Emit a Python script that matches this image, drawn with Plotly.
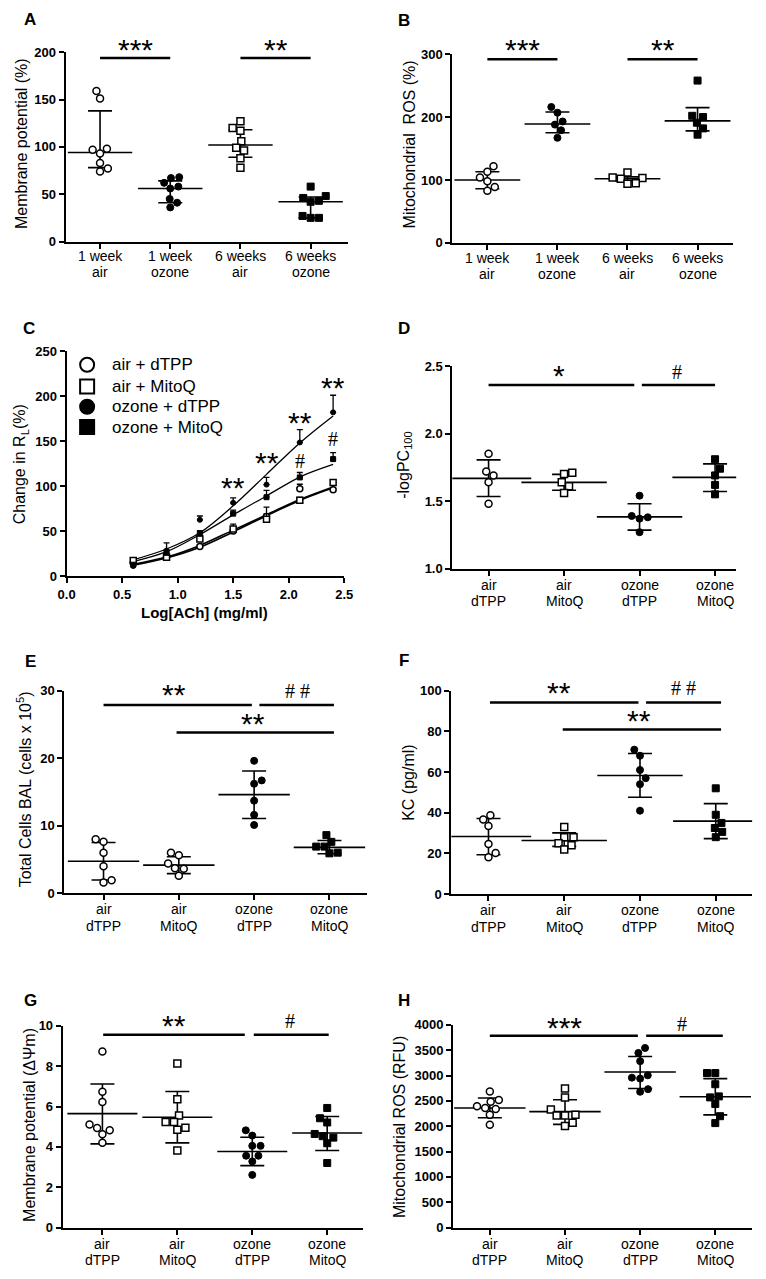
import plotly.graph_objects as go

W, H = 766, 1279

# ---------------- data ----------------
cats_week_1 = ["1 week", "1 week", "6 weeks", "6 weeks"]
cats_week_2 = ["air", "ozone", "air", "ozone"]
cats_trt_1 = ["air", "air", "ozone", "ozone"]
cats_trt_2 = ["dTPP", "MitoQ", "dTPP", "MitoQ"]

# A: Membrane potential (%)
A_1w_air = [151, 159, 97, 93, 98, 83, 74, 77]
A_1w_ozone = [67, 68, 62, 58, 56, 45, 41, 36]
A_6w_air = [127, 117, 120, 106, 99, 96, 88, 78]
A_6w_ozone = [58, 48, 43, 42, 46, 27, 25, 25]
A_mid = [94, 56, 102, 42]
A_lo = [78, 41, 89, 25]
A_hi = [138, 64, 118, 47]

# B: Mitochondrial ROS (%)
B_1w_air = [113, 122, 98, 104, 83, 89]
B_1w_ozone = [216, 207, 193, 188, 179, 167]
B_6w_air = [112, 104, 102, 103, 95, 94]
B_6w_ozone = [258, 200, 202, 191, 182, 172]
B_mid = [100, 189, 102, 194]
B_lo = [86, 175, 98, 178]
B_hi = [113, 208, 105, 215]

# C: Change in RL (%) vs Log[ACh]
C_x = [0.6, 0.9, 1.2, 1.5, 1.8, 2.1, 2.4]
C_air_dTPP = [14.7, 21.7, 32.7, 50, 66, 97, 96]
C_air_dTPP_sem = [1, 1.5, 2, 2, 3, 5, 2]
C_air_MitoQ = [17.3, 20.9, 41.1, 52.1, 63.1, 84.3, 104]
C_air_MitoQ_sem = [1, 2, 3, 5.5, 13.5, 3, 2]
C_oz_dTPP = [11, 28.3, 62.4, 81.4, 101.6, 148.5, 182]
C_oz_dTPP_sem = [2, 8.4, 4.3, 5.5, 8, 14.3, 19]
C_oz_MitoQ = [12.5, 25.7, 47.3, 69.3, 87.6, 109.6, 130]
C_oz_MitoQ_sem = [1.5, 3, 3, 4, 7.7, 5.5, 7.3]
C_fit_air_dTPP = [12, 20, 32, 49, 67, 84, 98]
C_fit_air_MitoQ = [13, 21, 34, 51, 68, 85, 99]
C_fit_oz_dTPP = [18, 30, 48, 78, 113, 148, 178]
C_fit_oz_MitoQ = [16, 27, 46, 68, 89, 110, 124]
C_star_x = [1.5, 1.8, 2.1, 2.4]
C_star_y = [101.5, 129, 174, 213]
C_hash_x = [2.1, 2.4]
C_hash_y = [127, 151]
C_legend = ["air + dTPP", "air + MitoQ", "ozone + dTPP", "ozone + MitoQ"]

# D: -logPC100
D_air_dTPP = [1.85, 1.69, 1.72, 1.64, 1.48]
D_air_MitoQ = [1.71, 1.70, 1.64, 1.61, 1.56]
D_oz_dTPP = [1.54, 1.38, 1.37, 1.39, 1.27]
D_oz_MitoQ = [1.81, 1.74, 1.69, 1.62, 1.55]
D_mid = [1.668, 1.639, 1.383, 1.676]
D_lo = [1.534, 1.58, 1.285, 1.571]
D_hi = [1.805, 1.698, 1.48, 1.776]

# E: Total cells BAL
E_air_dTPP = [7.6, 8.0, 6.0, 4.0, 1.6, 1.9]
E_air_MitoQ = [6.0, 5.6, 4.4, 3.6, 3.7, 2.6]
E_oz_dTPP = [19.6, 16.7, 16.2, 13.7, 11.6, 10.1]
E_oz_MitoQ = [8.6, 7.6, 6.9, 6.9, 6.0, 5.9]
E_mid = [4.73, 4.15, 14.6, 6.78]
E_lo = [1.95, 2.9, 11.05, 5.85]
E_hi = [7.5, 5.4, 18.1, 7.8]

# F: KC (pg/ml)
F_air_dTPP = [38.8, 36.7, 33.5, 24.6, 20.2, 18.1]
F_air_MitoQ = [33, 28, 28, 25, 24, 22]
F_oz_dTPP = [71, 68, 61, 57, 54, 41]
F_oz_MitoQ = [52, 39, 35, 32.5, 30.6, 28]
F_mid = [28.3, 26.4, 58.3, 35.9]
F_lo = [19.4, 23.5, 47.6, 27.3]
F_hi = [37.2, 30.1, 69.1, 44.5]

# G: Membrane potential (dPsi m)
G_air_dTPP = [8.73, 6.73, 6.22, 4.94, 4.82, 5.11, 4.62, 4.2]
G_air_MitoQ = [8.14, 6.36, 5.56, 5.23, 5.23, 4.95, 4.85, 3.82]
G_oz_dTPP = [4.82, 4.56, 4.05, 4.05, 3.56, 3.56, 3.28, 2.61]
G_oz_MitoQ = [5.93, 5.42, 5.21, 4.64, 4.53, 4.46, 4.18, 3.2]
G_mid = [5.65, 5.47, 3.77, 4.69]
G_lo = [4.15, 4.2, 3.07, 3.82]
G_hi = [7.12, 6.75, 4.48, 5.51]

# H: Mitochondrial ROS (RFU)
H_air_dTPP = [2686, 2485, 2517, 2341, 2361, 2393, 2224, 2029]
H_air_MitoQ = [2745, 2569, 2329, 2224, 2211, 2211, 2068, 2003]
H_oz_dTPP = [3545, 3447, 3285, 2959, 2940, 3005, 2732, 2680]
H_oz_MitoQ = [3050, 3050, 2829, 2569, 2589, 2439, 2198, 2062]
H_mid = [2361, 2289, 3070, 2582]
H_lo = [2166, 2036, 2745, 2224]
H_hi = [2556, 2523, 3376, 2940]

# significance bars: (x0, x1, y) and labels (text, x, y)
A_bars = [(0, 1, 193.7), (2, 3, 193.7)]
A_marks = [("***", 0.5, 206), ("**", 2.5, 206)]
B_bars = [(0, 1, 292), (2, 3, 292)]
B_marks = [("***", 0.5, 312), ("**", 2.5, 312)]
D_bars = [(0, 1.93, 2.359), (2.03, 3.0, 2.359)]
D_marks = [("*", 0.93, 2.45), ("#", 2.5, 2.45)]
E_bars = [(0, 1.97, 27.85), (2.07, 3.06, 27.85), (0.97, 3.06, 23.8)]
E_marks = [("**", 0.93, 29.8), ("# #", 2.58, 29.8), ("**", 1.99, 25.6)]
F_bars = [(0.02, 1.98, 94.2), (2.08, 3.07, 94.2), (0.98, 3.07, 80.9)]
F_marks = [("**", 0.93, 100.6), ("# #", 2.57, 100.6), ("**", 1.99, 86.9)]
G_bars = [(0.01, 1.9, 9.56), (2.02, 3.02, 9.56)]
G_marks = [("**", 0.96, 10.18), ("#", 2.51, 10.18)]
H_bars = [(0, 1.97, 3785), (2.08, 3.1, 3785)]
H_marks = [("***", 1.0, 4000), ("#", 2.56, 4000)]

# ---------------- layout (pixel boxes) ----------------
# name: (left, right, top, bottom, xrange, yrange)
boxes = {
    "A": (58, 347, 45.7, 237.3, [-0.49, 3.53], [0, 200]),
    "B": (454, 741, 47.7, 238.7, [-0.5, 3.5], [0, 300]),
    "C": (59, 343.3, 348.3, 575.7, [0, 2.5], [0, 250]),
    "D": (454, 744.7, 363.3, 568.3, [-0.48, 3.28], [1.0, 2.5]),
    "E": (56.7, 366.7, 691.7, 896.7, [-0.52, 3.5], [0, 30]),
    "F": (453, 761, 691.7, 897.7, [-0.49, 3.48], [0, 100]),
    "G": (55, 362.7, 1031, 1235, [-0.53, 3.48], [0, 10]),
    "H": (454.7, 761, 1030, 1235, [-0.49, 3.49], [0, 4000]),
}
order = ["A", "B", "C", "D", "E", "F", "G", "H"]
axid = {k: i + 1 for i, k in enumerate(order)}

FONT = "Liberation Sans, Arial, sans-serif"
SERIF = "Liberation Serif, Times New Roman, serif"
fig = go.Figure()


def refs(p):
    i = axid[p]
    return ("x" if i == 1 else f"x{i}"), ("y" if i == 1 else f"y{i}")


def ypaper(p, v):
    l, r, t, b, xrng, yrng = boxes[p]
    py = b - (v - yrng[0]) * (b - t) / (yrng[1] - yrng[0])
    return 1 - py / H


def swarm(vals, ppu, ppc, d=8.5):
    n = len(vals)
    idx = sorted(range(n), key=lambda i: vals[i])
    placed = []
    xs = [0.0] * n
    side = 1
    for i in idx:
        y = vals[i] * ppu
        forb = []
        for px, py in placed:
            dy = abs(y - py)
            if dy < d:
                w = (d * d - dy * dy) ** 0.5
                forb.append((px - w, px + w))
        cands = [0.0] + [a for a, b in forb] + [b for a, b in forb]
        valid = [c for c in cands if all(not (a + 1e-6 < c < b - 1e-6) for a, b in forb)]
        best = min(valid, key=lambda c: (round(abs(c), 4), -c * side))
        if abs(best) > 1e-6:
            side = -side
        placed.append((best, y))
        xs[i] = best / ppc
    return xs


STY = {
    "oc": dict(symbol="circle", color="white", line=dict(color="black", width=1.5)),
    "fc": dict(symbol="circle", color="black", line=dict(color="black", width=1)),
    "os": dict(symbol="square", color="white", line=dict(color="black", width=1.5)),
    "fs": dict(symbol="square", color="black", line=dict(color="black", width=1)),
}


def scatter_panel(p, groups, styles, mid, lo, hi, mean_w):
    xr, yr = refs(p)
    l, r, t, b, xrng, yrng = boxes[p]
    ppc = (r - l) / (xrng[1] - xrng[0])
    ppu = (b - t) / (yrng[1] - yrng[0])
    fig.add_trace(go.Scatter(
        x=list(range(4)), y=mid, mode="markers", xaxis=xr, yaxis=yr, showlegend=False,
        marker=dict(symbol="line-ew", size=mean_w, color="black", line=dict(color="black", width=1.6)),
        error_y=dict(type="data", symmetric=False,
                     array=[h - m for h, m in zip(hi, mid)],
                     arrayminus=[m - q for m, q in zip(mid, lo)],
                     width=12, thickness=1.6, color="black"),
    ))
    for gi, (vals, st) in enumerate(zip(groups, styles)):
        offs = swarm([v - yrng[0] for v in vals], ppu, ppc)
        fig.add_trace(go.Scatter(
            x=[gi + o for o in offs], y=vals, mode="markers", xaxis=xr, yaxis=yr,
            showlegend=False, cliponaxis=False,
            marker=dict(size=7, **STY[st]),
        ))


def add_mark(p, txt, x, y):
    xr, yr = refs(p)
    if "#" in txt:
        fig.add_annotation(x=x, y=ypaper(p, y), xref=xr, yref="paper", text=txt, showarrow=False,
                           yanchor="middle", font=dict(family=SERIF, size=20, color="black"), yshift=1)
    else:
        fig.add_annotation(x=x, y=ypaper(p, y), xref=xr, yref="paper", text=txt, showarrow=False,
                           yanchor="middle", font=dict(family=FONT, size=30, color="black"), yshift=-3)


def sig(p, bars, marks):
    xr, yr = refs(p)
    for x0, x1, y in bars:
        fig.add_trace(go.Scatter(x=[x0, x1], y=[y, y], mode="lines", xaxis=xr, yaxis=yr,
                                 showlegend=False, cliponaxis=False,
                                 line=dict(color="black", width=2.5)))
    for txt, x, y in marks:
        add_mark(p, txt, x, y)


scatter_panel("A", [A_1w_air, A_1w_ozone, A_6w_air, A_6w_ozone], ["oc", "fc", "os", "fs"],
              A_mid, A_lo, A_hi, 46)
scatter_panel("B", [B_1w_air, B_1w_ozone, B_6w_air, B_6w_ozone], ["oc", "fc", "os", "fs"],
              B_mid, B_lo, B_hi, 47)
scatter_panel("D", [D_air_dTPP, D_air_MitoQ, D_oz_dTPP, D_oz_MitoQ], ["oc", "os", "fc", "fs"],
              D_mid, D_lo, D_hi, 61)
scatter_panel("E", [E_air_dTPP, E_air_MitoQ, E_oz_dTPP, E_oz_MitoQ], ["oc", "oc", "fc", "fs"],
              E_mid, E_lo, E_hi, 51)
scatter_panel("F", [F_air_dTPP, F_air_MitoQ, F_oz_dTPP, F_oz_MitoQ], ["oc", "os", "fc", "fs"],
              F_mid, F_lo, F_hi, 61)
scatter_panel("G", [G_air_dTPP, G_air_MitoQ, G_oz_dTPP, G_oz_MitoQ], ["oc", "os", "fc", "fs"],
              G_mid, G_lo, G_hi, 50)
scatter_panel("H", [H_air_dTPP, H_air_MitoQ, H_oz_dTPP, H_oz_MitoQ], ["oc", "os", "fc", "fs"],
              H_mid, H_lo, H_hi, 51)

sig("A", A_bars, A_marks)
sig("B", B_bars, B_marks)
sig("D", D_bars, D_marks)
sig("E", E_bars, E_marks)
sig("F", F_bars, F_marks)
sig("G", G_bars, G_marks)
sig("H", H_bars, H_marks)

# ---- panel C: dose response ----
xr, yr = refs("C")
for fit, w in [(C_fit_air_dTPP, 1.6), (C_fit_air_MitoQ, 1.6), (C_fit_oz_MitoQ, 1.3), (C_fit_oz_dTPP, 1.3)]:
    fig.add_trace(go.Scatter(x=C_x, y=fit, mode="lines", xaxis=xr, yaxis=yr, showlegend=False,
                             line=dict(color="black", width=w, shape="spline", smoothing=1.0)))
for vals, sem, st, sz in [(C_air_dTPP, C_air_dTPP_sem, "oc", 6),
                          (C_air_MitoQ, C_air_MitoQ_sem, "os", 6),
                          (C_oz_MitoQ, C_oz_MitoQ_sem, "fs", 5),
                          (C_oz_dTPP, C_oz_dTPP_sem, "fc", 5)]:
    fig.add_trace(go.Scatter(
        x=C_x, y=vals, mode="markers", xaxis=xr, yaxis=yr, showlegend=False, cliponaxis=False,
        marker=dict(size=sz, **STY[st]),
        error_y=dict(type="data", symmetric=False, array=sem, arrayminus=[0] * len(sem),
                     width=3, thickness=1.3, color="black"),
    ))
for x, y in zip(C_star_x, C_star_y):
    add_mark("C", "**", x, y)
for x, y in zip(C_hash_x, C_hash_y):
    add_mark("C", "#", x, y)

# legend for panel C drawn on an invisible pixel-space overlay axis
LEG_X, LEG_TX = 80, 103
LEG_ROWS = [362, 384, 404.5, 425]
leg_sty = ["oc", "os", "fc", "fs"]
fig.add_trace(go.Scatter(
    x=[LEG_X] * 4, y=LEG_ROWS, mode="markers", xaxis="x9", yaxis="y9", showlegend=False,
    cliponaxis=False,
    marker=dict(size=14, symbol=[STY[s]["symbol"] for s in leg_sty],
                color=[STY[s]["color"] for s in leg_sty], line=dict(color="black", width=2)),
))
for name, yy in zip(C_legend, LEG_ROWS):
    fig.add_annotation(x=LEG_TX, y=yy, xref="x9", yref="y9", text=name, showarrow=False,
                       xanchor="left", yanchor="middle", font=dict(family=FONT, size=17, color="black"))

# ---------------- axes ----------------
common = dict(showline=True, linewidth=2, linecolor="black", ticks="outside", ticklen=5,
              tickwidth=2, tickcolor="black", showgrid=False, zeroline=False, mirror=False)
ydtick = {"A": 50, "B": 100, "C": 50, "D": 0.5, "E": 10, "F": 20, "G": 2, "H": 500}
layout_axes = {}
for p in order:
    i = axid[p]
    l, r, t, b, xrng, yrng = boxes[p]
    xname = "xaxis" if i == 1 else f"xaxis{i}"
    yname = "yaxis" if i == 1 else f"yaxis{i}"
    xa = dict(common, domain=[l / W, r / W], range=xrng, anchor=("y" if i == 1 else f"y{i}"))
    if p == "C":
        xa.update(tick0=0, dtick=0.5, tickformat=".1f",
                  tickfont=dict(family=FONT, size=13, color="black", weight="bold"))
    else:
        xa.update(tickmode="array", tickvals=[0, 1, 2, 3], showticklabels=False)
    ya = dict(common, domain=[1 - b / H, 1 - t / H], range=yrng, anchor=("x" if i == 1 else f"x{i}"),
              tick0=yrng[0], dtick=ydtick[p],
              tickfont=dict(family=FONT, size=13, color="black", weight="bold"))
    if p == "D":
        ya["tickformat"] = ".1f"
    layout_axes[xname] = xa
    layout_axes[yname] = ya
layout_axes["xaxis9"] = dict(domain=[0, 1], range=[0, W], visible=False, anchor="y9")
layout_axes["yaxis9"] = dict(domain=[0, 1], range=[H, 0], visible=False, anchor="x9")

fig.update_layout(**layout_axes)

# category labels (two lines under each tick)
for p in ["A", "B", "D", "E", "F", "G", "H"]:
    xr, yr = refs(p)
    l, r, t, b, xrng, yrng = boxes[p]
    l1, l2 = (cats_week_1, cats_week_2) if p in ("A", "B") else (cats_trt_1, cats_trt_2)
    d1, d2 = (15, 31) if p in ("A", "B") else (16.5, 33)
    for ci in range(4):
        for txt, dy in ((l1[ci], d1), (l2[ci], d2)):
            fig.add_annotation(x=ci, y=1 - (b + dy) / H, xref=xr, yref="paper", text=txt,
                               showarrow=False, xanchor="center", yanchor="middle",
                               font=dict(family=FONT, size=14, color="black"))

# ---------------- text: panel letters, axis titles ----------------
letters = {"A": (22, 13), "B": (404.7, 13.3), "C": (20, 325), "D": (404.7, 325),
           "E": (22, 662), "F": (404.7, 661.7), "G": (22, 1005), "H": (404.7, 1005)}
for k, (px, py) in letters.items():
    fig.add_annotation(x=px / W, y=1 - py / H, xref="paper", yref="paper", text=f"<b>{k}</b>",
                       showarrow=False, xanchor="center", yanchor="middle",
                       font=dict(family=FONT, size=17, color="black"))

ytitles = [
    ("Membrane potential (%)", 13, 138),
    ("Mitochondrial  ROS (%)", 409.7, 139),
    ("Change in R<sub>L</sub>(%)", 12, 463),
    ("-logPC<sub>100</sub>", 404.7, 463),
    ("Total Cells BAL (cells x 10<sup>5</sup>)", 15, 792),
    ("KC (pg/ml)", 409.7, 785),
    ("Membrane potential (ΔΨm)", 21.7, 1131),
    ("Mitochondrial ROS (RFU)", 399.7, 1133),
]
for txt, px, py in ytitles:
    fig.add_annotation(x=px / W, y=1 - py / H, xref="paper", yref="paper", text=txt,
                       showarrow=False, textangle=-90, xanchor="center", yanchor="middle",
                       font=dict(family=FONT, size=16, color="black"))

fig.add_annotation(x=200 / W, y=1 - 613 / H, xref="paper", yref="paper", text="<b>Log[ACh] (mg/ml)</b>",
                   showarrow=False, xanchor="center", yanchor="middle",
                   font=dict(family=FONT, size=15, color="black"))

fig.update_layout(
    width=W, height=H, margin=dict(l=0, r=0, t=0, b=0),
    paper_bgcolor="white", plot_bgcolor="rgba(0,0,0,0)",
    font=dict(family=FONT, color="black"),
    showlegend=False,
)

fig.write_html("out.html", config={"displayModeBar": False},
               post_script="document.body.style.margin='0px';document.body.style.overflow='hidden';")
